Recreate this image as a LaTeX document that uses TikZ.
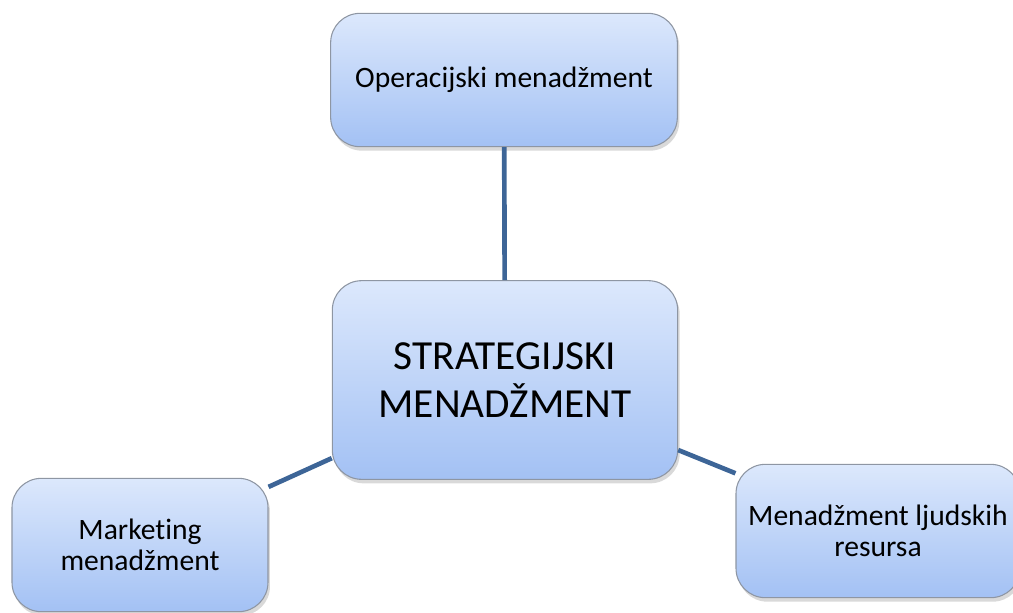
\documentclass[tikz,border=0pt]{standalone}
\usepackage{fontspec}
\setmainfont{Carlito}[Ligatures=NoCommon]
\usetikzlibrary{shapes.geometric, shadows}
\definecolor{boxtop}{HTML}{DCE8FC}
\definecolor{boxbottom}{HTML}{A3C1F4}
\definecolor{boxline}{HTML}{8E96A3}
\definecolor{linkblue}{HTML}{3D6597}
\tikzstyle{core1} =
[
	rectangle
	, rounded corners=22pt
	, minimum width=259pt
	, minimum height=149pt
	, align=center
	, draw=boxline
	, line width=0.8pt
	, top color=boxtop
	, bottom color=boxbottom
	, drop shadow={shadow xshift=1.5pt, shadow yshift=-3pt, opacity=0.3}
	, font=\fontsize{31pt}{35.5pt}\selectfont
]
\tikzstyle{area1} =
[
	rectangle
	, rounded corners=22pt
	, minimum height=100pt
	, align=center
	, draw=boxline
	, line width=0.8pt
	, top color=boxtop
	, bottom color=boxbottom
	, drop shadow={shadow xshift=1.5pt, shadow yshift=-3pt, opacity=0.3}
	, font=\fontsize{22.2pt}{23.5pt}\selectfont
]
\tikzstyle{link} = [line width=3.5pt, draw=linkblue]
\begin{document}
\begin{tikzpicture}[node distance=225pt]
\useasboundingbox (-378.75pt,-174pt) rectangle (381pt,285pt);

\node(strat)[core1]{STRATEGIJSKI\\MENADŽMENT};
\node(oper)[area1, minimum width=260pt, above of=strat, xshift=-0.75pt]{Operacijski menadžment};
\node(mark)[area1, minimum width=192pt, below of=strat, node distance=123.75pt, xshift=-273.75pt]{Marketing\\menadžment};
\node(ljud)[area1, minimum width=213pt, below of=strat, node distance=113.25pt, xshift=279.75pt]{Menadžment ljudskih\\resursa};

\draw[link](oper)--(strat);
\draw[link](mark)--(strat);
\draw[link](ljud)--(strat);

\end{tikzpicture}
\end{document}
